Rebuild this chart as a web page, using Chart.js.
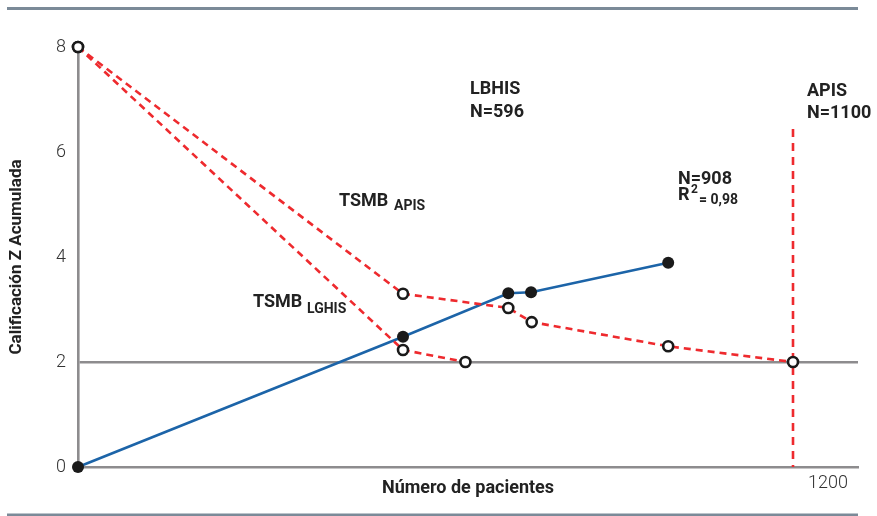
<!DOCTYPE html>
<html>
<head>
<meta charset="utf-8">
<script src="https://cdn.jsdelivr.net/npm/chart.js@4.4.1/dist/chart.umd.min.js"></script>
<style>
  html, body { margin: 0; padding: 0; background: #fff; }
</style>
</head>
<body>
<canvas id="zchart" width="877" height="516"></canvas>
<script>
// cumulative Z score against number of patients
const blueX = [0, 500, 662, 697, 908];
const blueY = [0, 2.48, 3.31, 3.33, 3.89];

const apisX = [0, 500, 662, 698, 908, 1100];
const apisY = [8, 3.30, 3.03, 2.76, 2.30, 2.0];

const lghisX = [0, 500, 596];
const lghisY = [8, 2.23, 2.0];

const limitX = [1100, 1100];
const limitY = [6.44, 0];

const yTicks = [0, 2, 4, 6, 8];
const xTickLabels = ['1200'];

const RED = '#ee2a2e';
const BLUE = '#1c64a8';
const GRAY = '#8d8c8e';
const INK = '#222222';

function pts(xs, ys) {
    return xs.map((x, i) => ({ x: x, y: ys[i] }));
}

const openPt = {
    pointRadius: 5,
    pointBackgroundColor: '#ffffff',
    pointBorderColor: '#1a1a1a',
    pointBorderWidth: 2.6,
};

// text labels and the frame rules
const notes = {
    id: 'notes',
    afterDraw(chart) {
        const c = chart.ctx;
        c.save();
        c.strokeStyle = '#7b8a98';
        c.lineWidth = 3;
        c.beginPath();
        c.moveTo(7, 8.5); c.lineTo(858, 8.5);
        c.moveTo(7, 515); c.lineTo(858, 515);
        c.stroke();

        c.fillStyle = INK;
        c.textAlign = 'left';
        c.textBaseline = 'alphabetic';
        const big = 'bold 18px Roboto, sans-serif';
        const small = 'bold 14px Roboto, sans-serif';
        const tiny = 'bold 12px Roboto, sans-serif';
        c.font = big;
        c.fillText('LBHIS', 470, 94);
        c.fillText('N=596', 470, 117);
        c.fillText('APIS', 807, 96);
        c.fillText('N=1100', 807, 118);
        c.fillText('N=908', 678, 184);
        c.fillText('R', 678, 200);
        c.fillText('TSMB', 339, 206);
        c.fillText('TSMB', 253, 307);
        c.font = tiny;
        c.fillText('2', 691, 193);
        c.font = small;
        c.fillText('= 0,98', 699, 204);
        c.fillText('APIS', 394, 210);
        c.fillText('LGHIS', 307, 313);
        c.restore();
    }
};

new Chart(document.getElementById('zchart'), {
    type: 'line',
    data: {
        datasets: [
            {
                data: pts(blueX, blueY),
                borderColor: BLUE,
                borderWidth: 2.6,
                pointRadius: 6,
                pointBackgroundColor: '#1a1a1a',
                pointBorderColor: '#1a1a1a',
                pointBorderWidth: 0,
                clip: false,
                order: 1,
            },
            Object.assign({
                data: pts(apisX, apisY),
                borderColor: RED,
                borderWidth: 2.6,
                borderDash: [7, 5],
                clip: false,
                order: 0,
            }, openPt),
            Object.assign({
                data: pts(lghisX, lghisY),
                borderColor: RED,
                borderWidth: 2.6,
                borderDash: [7, 5],
                clip: false,
                order: 0,
            }, openPt),
            {
                data: pts(limitX, limitY),
                borderColor: RED,
                borderWidth: 2.6,
                borderDash: [8, 6],
                pointRadius: 0,
                clip: false,
                order: 3,
            },
        ]
    },
    options: {
        responsive: false,
        animation: false,
        layout: { padding: { top: 47, right: 19, left: 0, bottom: 0 } },
        plugins: {
            legend: { display: false },
            tooltip: { enabled: false },
        },
        elements: { line: { tension: 0 } },
        scales: {
            x: {
                type: 'linear',
                min: 0,
                max: 1200,
                afterBuildTicks: (s) => { s.ticks = [{ value: 0 }, { value: 1200 }]; },
                ticks: {
                    callback: (v) => (v === 1200 ? xTickLabels[0] : ''),
                    labelOffset: -30,
                    padding: 6,
                    color: '#333',
                    font: { family: 'Roboto', size: 18, weight: '300' },
                },
                grid: { display: false, drawTicks: false },
                border: { color: GRAY, width: 2.6 },
                title: {
                    display: true,
                    text: 'Número de pacientes',
                    color: INK,
                    font: { family: 'Roboto', size: 18, weight: 'bold' },
                    padding: { top: 0, bottom: 17 },
                },
                afterFit: (s) => { s.height = 49; s.paddingLeft = 0; s.paddingRight = 0; },
            },
            y: {
                min: 0,
                max: 8,
                afterBuildTicks: (s) => { s.ticks = yTicks.map(v => ({ value: v })); },
                ticks: {
                    padding: 12,
                    color: '#333',
                    font: { family: 'Roboto', size: 18, weight: '300' },
                },
                grid: {
                    drawTicks: false,
                    lineWidth: 2.6,
                    color: (ctx) => (ctx.tick && ctx.tick.value === 2 ? GRAY : 'rgba(0,0,0,0)'),
                },
                border: { color: GRAY, width: 2.6 },
                title: {
                    display: true,
                    text: 'Calificación Z Acumulada',
                    color: INK,
                    font: { family: 'Roboto', size: 17, weight: 'bold' },
                    padding: { top: 7, bottom: 0 },
                },
                afterFit: (s) => { s.width = 78; s.paddingTop = 0; s.paddingBottom = 0; },
            },
        },
    },
    plugins: [notes],
});
</script>
</body>
</html>
